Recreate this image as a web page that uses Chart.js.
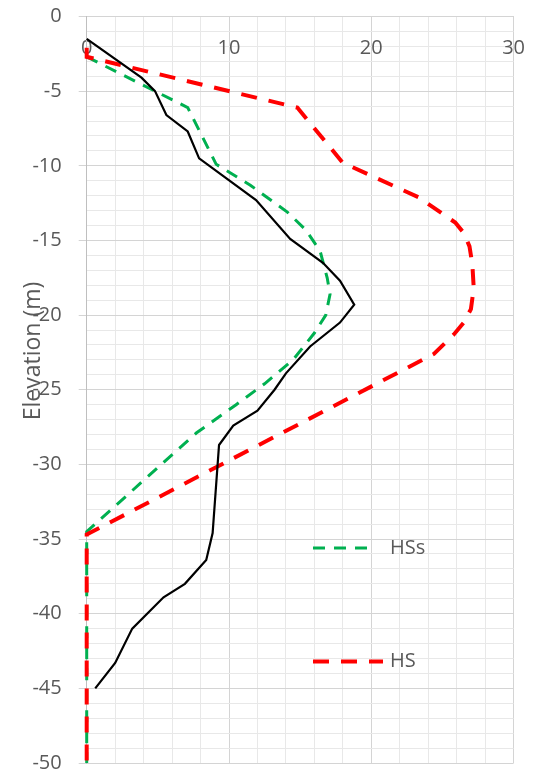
<!DOCTYPE html>
<html><head><meta charset="utf-8">
<script src="https://cdn.jsdelivr.net/npm/chart.js@4.4.1/dist/chart.umd.min.js"></script>
<style>html,body{margin:0;padding:0;background:#fff;} #wrap{width:538px;height:771px;position:relative;}</style>
</head><body><div id="wrap"><canvas id="c" width="538" height="771"></canvas></div>
<script>
// ---- data ----
const hsDepth  = [-2.1, -2.7, -6.1, -9.8, -12.1, -13.8, -14.5, -15.4, -16.6, -18.2, -19.6, -20.5, -21.3, -22.6, -34.7, -50];
const hsValue  = [0, 0, 14.8, 18.0, 23.3, 25.9, 26.5, 26.9, 27.1, 27.2, 27.0, 26.5, 25.8, 24.4, 0, 0];
const hssDepth = [-2.7, -6.1, -9.9, -11.3, -13.1, -14.3, -15.7, -17.5, -18.6, -20.0, -21.2, -23.0, -24.6, -26.0, -27.9, -34.5, -50];
const hssValue = [0, 7.1, 9.1, 11.5, 14.1, 15.4, 16.4, 16.9, 17.1, 16.8, 16.0, 14.5, 12.5, 10.5, 7.7, 0, 0];
const hDepth   = [-1.5, -4.1, -5.0, -6.6, -7.7, -9.5, -12.3, -14.9, -16.5, -17.7, -19.3, -20.5, -22.1, -23.9, -25.0, -26.4, -27.4, -28.7, -34.6, -36.4, -38.0, -38.9, -41.0, -43.3, -45.0];
const hValue   = [0, 3.85, 4.8, 5.6, 7.1, 7.9, 11.9, 14.3, 16.6, 17.8, 18.8, 17.8, 15.7, 14.0, 13.2, 12.0, 10.3, 9.3, 8.85, 8.4, 6.9, 5.4, 3.2, 2.0, 0.6];
const xTickLabels = [0, 10, 20, 30];
const yTickLabels = [0, -5, -10, -15, -20, -25, -30, -35, -40, -45, -50];
const yTitle = 'Elevation (m)';

const toPts = (xs, ys) => xs.map((v, i) => ({x: v, y: ys[i]}));
const FONT = '"Open Sans", "Noto Sans", sans-serif';
const GRID_MAJOR = '#d4d4d4', GRID_MINOR = '#e8e8e8';

const overlay = {
  id: 'overlay',
  afterDraw(chart, args, opts) {
    const ctx = chart.ctx;
    ctx.save();
    ctx.fillStyle = '#595959';
    ctx.font = '23px ' + FONT;
    ctx.translate(opts.titleX, opts.titleY);
    ctx.rotate(-Math.PI / 2);
    ctx.textAlign = 'center';
    ctx.textBaseline = 'middle';
    ctx.fillText(chart.options.scales.y.title.text, 0, 0);
    ctx.restore();
    opts.legend.forEach(item => {
      const ds = chart.data.datasets[item.index];
      ctx.save();
      ctx.strokeStyle = ds.borderColor;
      ctx.lineWidth = ds.borderWidth;
      ctx.setLineDash(ds.borderDash || []);
      ctx.beginPath();
      ctx.moveTo(item.x1, item.y);
      ctx.lineTo(item.x2, item.y);
      ctx.stroke();
      ctx.setLineDash([]);
      ctx.fillStyle = '#595959';
      ctx.font = '20px ' + FONT;
      ctx.textAlign = 'left';
      ctx.textBaseline = 'middle';
      ctx.fillText(ds.label, item.tx, item.y);
      ctx.restore();
    });
  }
};

new Chart(document.getElementById('c'), {
  type: 'scatter',
  data: {
    datasets: [
      {label: 'H', data: toPts(hValue, hDepth), showLine: true, borderColor: '#000000', borderWidth: 2.2, pointRadius: 0, order: 0, clip: 6},
      {label: 'HS', data: toPts(hsValue, hsDepth), showLine: true, borderColor: '#ff0000', borderWidth: 4, borderDash: [16, 12], pointRadius: 0, order: 1, clip: 6},
      {label: 'HSs', data: toPts(hssValue, hssDepth), showLine: true, borderColor: '#00b050', borderWidth: 3, borderDash: [12, 9], pointRadius: 0, order: 2, clip: 6}
    ]
  },
  options: {
    responsive: false,
    animation: false,
    devicePixelRatio: 1,
    layout: {padding: {left: 0, top: 16.5, right: 24.4, bottom: 8}},
    plugins: {
      legend: {display: false},
      tooltip: {enabled: false},
      overlay: {
        titleX: 33.3, titleY: 351,
        legend: [
          {index: 2, x1: 313, x2: 370, y: 548, tx: 390},
          {index: 1, x1: 313, x2: 383, y: 661.5, tx: 390}
        ]
      }
    },
    scales: {
      x: {
        type: 'linear', position: {y: 0}, min: 0, max: 30,
        ticks: {stepSize: 2, autoSkip: false, maxRotation: 0, padding: 20, color: '#595959',
          font: {family: FONT, size: 20},
          callback: v => xTickLabels.includes(v) ? String(v) : ''},
        grid: {color: c => (c.tick && c.tick.value % 10 === 0) ? GRID_MAJOR : GRID_MINOR, lineWidth: 1, drawTicks: false},
        border: {display: true, color: GRID_MAJOR},
        afterFit: s => { s.height = 0; s.paddingLeft = 0; s.paddingRight = 0; s.paddingTop = 0; s.paddingBottom = 0; }
      },
      y: {
        type: 'linear', position: 'left', min: -50, max: 0,
        title: {display: false, text: yTitle},
        ticks: {stepSize: 1, autoSkip: false, padding: 17, color: '#595959',
          font: {family: FONT, size: 20, lineHeight: 0.8},
          callback: v => yTickLabels.includes(v) ? String(v) : ''},
        grid: {color: c => (c.tick && c.tick.value % 5 === 0) ? GRID_MAJOR : GRID_MINOR, lineWidth: 1,
          tickLength: 8, tickColor: c => (c.tick && c.tick.value % 5 === 0) ? GRID_MAJOR : 'rgba(0,0,0,0)'},
        border: {display: true, color: '#bfbfbf'},
        afterFit: s => { s.width = 86.7; s.paddingTop = 0; s.paddingBottom = 0; s.paddingLeft = 0; s.paddingRight = 0; }
      }
    }
  },
  plugins: [overlay]
});
</script>
</body></html>
